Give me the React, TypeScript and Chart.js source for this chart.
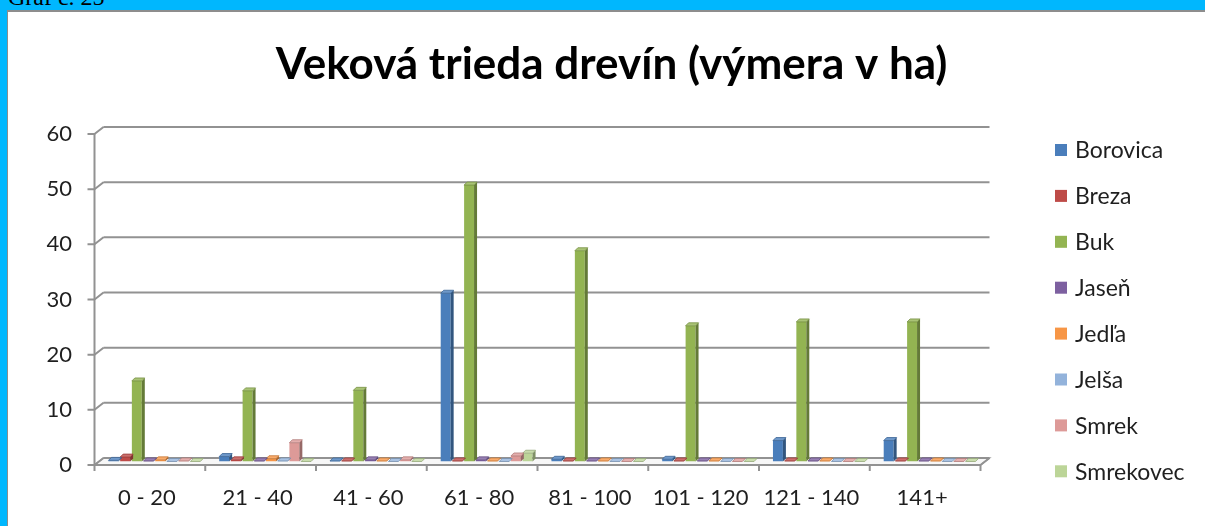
import React, { useEffect, useRef } from 'react';
import { Chart, registerables } from 'chart.js';

Chart.register(...registerables);

const categories = ['0 - 20', '21 - 40', '41 - 60', '61 - 80', '81 - 100', '101 - 120', '121 - 140', '141+'];
const seriesNames = ['Borovica', 'Breza', 'Buk', 'Jaseň', 'Jedľa', 'Jelša', 'Smrek', 'Smrekovec'];
const borovica = [0.2, 0.9, 0.1, 30.5, 0.4, 0.4, 3.8, 3.8];
const breza = [0.8, 0.3, 0.1, 0.1, 0.1, 0.1, 0.1, 0.1];
const buk = [14.6, 12.8, 12.9, 50.1, 38.2, 24.6, 25.3, 25.3];
const jasen = [0.1, 0.1, 0.3, 0.3, 0.1, 0.1, 0.1, 0.1];
const jedla = [0.3, 0.5, 0.1, 0.1, 0.1, 0.1, 0.1, 0.1];
const jelsa = [0, 0.1, 0, 0, 0, 0, 0, 0];
const smrek = [0.1, 3.4, 0.3, 1.0, 0, 0, 0, 0];
const smrekovec = [0, 0, 0, 1.5, 0, 0, 0, 0];
const seriesValues = [borovica, breza, buk, jasen, jedla, jelsa, smrek, smrekovec];
const seriesColors = ['#4A7EBB', '#BE4B48', '#93B452', '#7D60A0', '#F79646', '#93B3DB', '#DD9A98', '#BCD598'];

const titleText = 'Veková trieda drevín (výmera v ha)';
const FONT = 'Lato';
const DX = 4.5;
const DY = 3.5;
const BD = 3;

function shade(hex: string, f: number): string {
  const n = parseInt(hex.slice(1), 16);
  let r = (n >> 16) & 255, g = (n >> 8) & 255, b = n & 255;
  if (f < 1) {
    r = Math.round(r * f); g = Math.round(g * f); b = Math.round(b * f);
  } else {
    const t = f - 1;
    r = Math.round(r + (255 - r) * t); g = Math.round(g + (255 - g) * t); b = Math.round(b + (255 - b) * t);
  }
  return `rgb(${r},${g},${b})`;
}

const depthPlugin = {
  id: 'depth3d',
  beforeDatasetsDraw(chart: any) {
    const { ctx, chartArea: a, scales } = chart;
    const ys = scales.y;
    const L = a.left, R = a.right;
    const y0 = ys.getPixelForValue(0);
    ctx.save();
    // floor
    ctx.beginPath();
    ctx.moveTo(L - DX, y0 + DY);
    ctx.lineTo(R - DX, y0 + DY);
    ctx.lineTo(R + DX, y0 - DY);
    ctx.lineTo(L + DX, y0 - DY);
    ctx.closePath();
    ctx.fillStyle = '#f7f7f7';
    ctx.fill();
    ctx.strokeStyle = '#a3a3a3';
    ctx.lineWidth = 1.5;
    ctx.stroke();
    // back wall gridlines + stubs + ticks
    ctx.strokeStyle = '#929292';
    ctx.lineWidth = 2;
    ys.ticks.forEach((t: any) => {
      const py = ys.getPixelForValue(t.value);
      ctx.beginPath();
      ctx.moveTo(L + DX, py - DY);
      ctx.lineTo(R + DX, py - DY);
      ctx.moveTo(L - DX, py + DY);
      ctx.lineTo(L + DX, py - DY);
      ctx.moveTo(L - DX - 7, py + DY);
      ctx.lineTo(L - DX, py + DY);
      ctx.stroke();
    });
    // front y axis
    const yTop = ys.getPixelForValue(ys.max);
    ctx.beginPath();
    ctx.moveTo(L - DX, yTop + DY);
    ctx.lineTo(L - DX, y0 + DY);
    ctx.stroke();
    // front x axis + ticks
    const n = categories.length;
    const cw = (R - L) / n;
    ctx.beginPath();
    ctx.moveTo(L - DX, y0 + DY);
    ctx.lineTo(R - DX, y0 + DY);
    ctx.lineTo(R + DX, y0 - DY);
    for (let i = 0; i <= n; i++) {
      const px = L - DX + i * cw;
      ctx.moveTo(px, y0 + DY);
      ctx.lineTo(px, y0 + DY + 6);
    }
    ctx.stroke();
    ctx.restore();
  },
  afterDatasetDraw(chart: any, args: any) {
    const { ctx } = chart;
    const meta = args.meta;
    const color = seriesColors[args.index];
    ctx.save();
    meta.data.forEach((bar: any) => {
      const { x, y, base, width } = bar.getProps(['x', 'y', 'base', 'width'], true);
      const left = x - width / 2;
      const right = x + width / 2;
      const top = Math.min(y, base);
      const bot = Math.max(y, base);
      // side face
      ctx.beginPath();
      ctx.moveTo(right, top);
      ctx.lineTo(right + BD, top - BD);
      ctx.lineTo(right + BD, bot - BD);
      ctx.lineTo(right, bot);
      ctx.closePath();
      ctx.fillStyle = shade(color, 0.68);
      ctx.fill();
      // top face
      ctx.beginPath();
      ctx.moveTo(left, top);
      ctx.lineTo(left + BD, top - BD);
      ctx.lineTo(right + BD, top - BD);
      ctx.lineTo(right, top);
      ctx.closePath();
      ctx.fillStyle = shade(color, 1.2);
      ctx.fill();
      ctx.strokeStyle = shade(color, 0.8);
      ctx.lineWidth = 0.8;
      ctx.stroke();
    });
    ctx.restore();
  },
  afterDraw(chart: any) {
    const { ctx } = chart;
    ctx.save();
    ctx.font = `23px ${FONT}`;
    ctx.textBaseline = 'middle';
    ctx.textAlign = 'left';
    chart.data.datasets.forEach((ds: any, i: number) => {
      const cy = 138 + 45.9 * i;
      ctx.fillStyle = ds.backgroundColor;
      ctx.fillRect(1047, cy - 6, 12, 12);
      ctx.fillStyle = '#1f1f1f';
      ctx.fillText(ds.label, 1067, cy + 1);
    });
    ctx.restore();
  },
};

export default function App() {
  const ref = useRef<HTMLCanvasElement | null>(null);
  useEffect(() => {
    if (!ref.current) return;
    const chart = new Chart(ref.current, {
      type: 'bar',
      data: {
        labels: categories,
        datasets: seriesNames.map((name, i) => ({
          label: name,
          data: seriesValues[i],
          backgroundColor: seriesColors[i],
          borderWidth: 0,
          categoryPercentage: 0.845,
          barPercentage: 0.85,
        })),
      },
      options: {
        responsive: false,
        animation: false,
        devicePixelRatio: 1,
        layout: { padding: { left: 10, right: 0, top: 0, bottom: 0 } },
        plugins: {
          legend: { display: false },
          tooltip: { enabled: false },
          title: {
            display: true,
            text: titleText,
            color: '#000',
            font: { family: FONT, size: 44, weight: 'bold' },
            padding: { top: 26.6, bottom: 39.1 },
          },
        },
        scales: {
          x: {
            type: 'category',
            grid: { display: false, drawTicks: false },
            border: { display: false },
            ticks: {
              font: { family: FONT, size: 22 },
              color: '#1f1f1f',
              padding: 23,
              labelOffset: -7.5,
              maxRotation: 0,
              autoSkip: false,
            },
            afterFit: (s: any) => { s.height = 64.5; },
          },
          y: {
            min: 0,
            max: 60,
            grid: { display: false, drawTicks: false },
            border: { display: false },
            ticks: {
              stepSize: 10,
              font: { family: FONT, size: 22 },
              color: '#1f1f1f',
              padding: 27,
              labelOffset: 3.5,
            },
            afterFit: (s: any) => { s.width = 81; },
          },
          yR: {
            type: 'linear',
            position: 'right',
            display: true,
            grid: { display: false, drawTicks: false },
            border: { display: false },
            ticks: { display: false },
            afterFit: (s: any) => { s.width = 220; },
          },
        },
      },
      plugins: [depthPlugin],
    });
    return () => chart.destroy();
  }, []);

  return (
    <div style={{ position: 'fixed', left: 0, top: 0, width: 1205, height: 526, background: '#00B7FE', overflow: 'hidden' }}>
      <div style={{ position: 'absolute', left: 8, top: -15, font: '24px "Liberation Serif", serif', lineHeight: '24px', color: '#000', whiteSpace: 'nowrap' }}>
        Graf č. 25
      </div>
      <div style={{ position: 'absolute', left: 7, top: 10, width: 1197, height: 514, background: '#fff', borderLeft: '1px solid #8d8d8d', borderTop: '2px solid #8d8d8d' }}>
        <canvas ref={ref} width={1197} height={514} style={{ display: 'block' }} />
      </div>
    </div>
  );
}
